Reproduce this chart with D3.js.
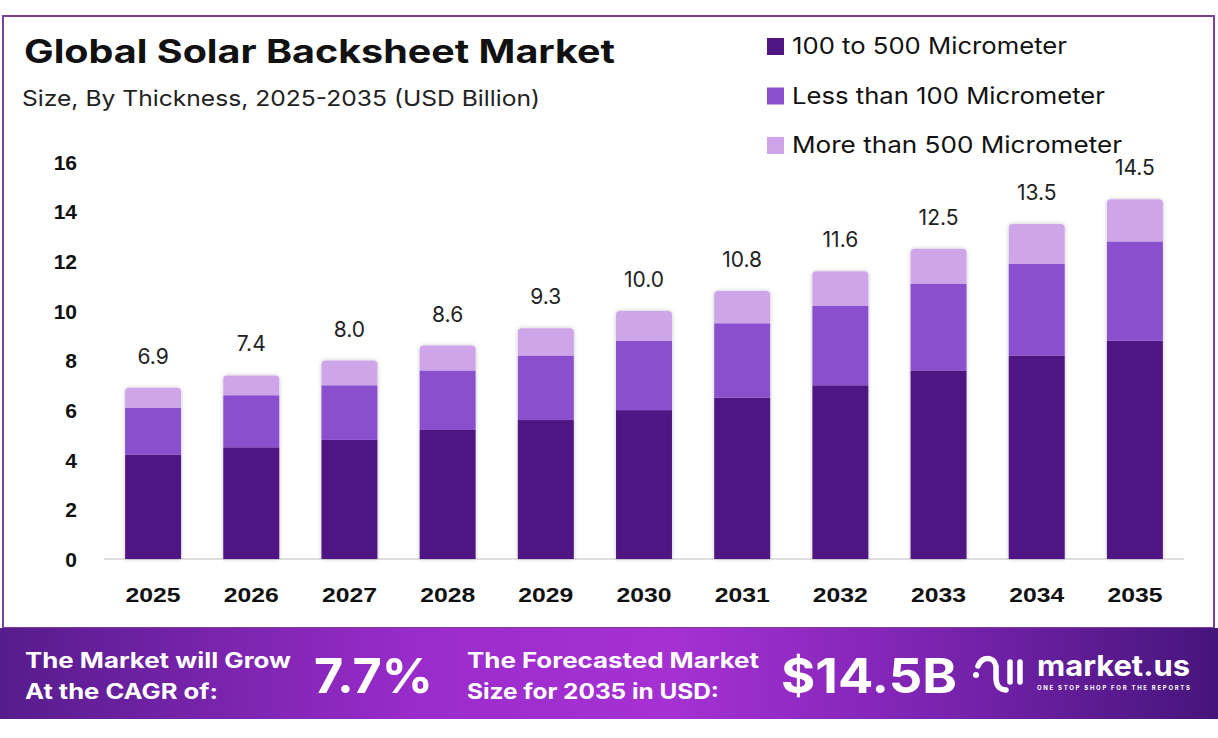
<!DOCTYPE html>
<html>
<head>
<meta charset="utf-8">
<script src="https://cdn.jsdelivr.net/npm/d3@7"></script>
<style>
  body { margin: 0; background: #fff; }
  svg { display: block; }
</style>
</head>
<body>
<svg id="chart" width="1218" height="738"></svg>
<script>
// data (USD billion)
var years = ["2025","2026","2027","2028","2029","2030","2031","2032","2033","2034","2035"];
var mid500 = [4.2, 4.5, 4.8, 5.2, 5.6, 6.0, 6.5, 7.0, 7.6, 8.2, 8.8];   // 100 to 500 Micrometer
var below100 = [1.9, 2.1, 2.2, 2.4, 2.6, 2.8, 3.0, 3.2, 3.5, 3.7, 4.0]; // Less than 100 Micrometer
var above500 = [0.8, 0.8, 1.0, 1.0, 1.1, 1.2, 1.3, 1.4, 1.4, 1.6, 1.7]; // More than 500 Micrometer
var totals = [6.9, 7.4, 8.0, 8.6, 9.3, 10.0, 10.8, 11.6, 12.5, 13.5, 14.5];
var seriesNames = ["100 to 500 Micrometer", "Less than 100 Micrometer", "More than 500 Micrometer"];
var seriesColors = ["#4f1683", "#8a4fcc", "#cfa5e9"];
var yTicks = [0, 2, 4, 6, 8, 10, 12, 14, 16];

var svg = d3.select("#chart");
var titleFont = "Inter, 'Noto Sans', sans-serif";
var tickFont = "'Liberation Sans', Arial, sans-serif";

// defs: footer gradient + bar shadow
var defs = svg.append("defs");
var grad = defs.append("linearGradient").attr("id", "band").attr("x1", "0").attr("x2", "1");
[["0%", "#561c8c"], ["35%", "#9b2ccc"], ["55%", "#a631d3"], ["75%", "#7f25b4"], ["100%", "#45157b"]]
  .forEach(function (s) { grad.append("stop").attr("offset", s[0]).attr("stop-color", s[1]); });
var shadow = defs.append("filter").attr("id", "shadow").attr("x", "-20%").attr("y", "-20%").attr("width", "140%").attr("height", "140%");
shadow.append("feDropShadow").attr("dx", 0).attr("dy", 0).attr("stdDeviation", 2).attr("flood-color", "#000").attr("flood-opacity", 0.22);

// frame
svg.append("rect").attr("x", 3).attr("y", 16).attr("width", 1211).attr("height", 612)
  .attr("fill", "#fff").attr("stroke", "#7b3f99").attr("stroke-width", 2);

// title
svg.append("text").attr("x", 24).attr("y", 63).text("Global Solar Backsheet Market")
  .attr("font-family", titleFont).attr("font-weight", 700).attr("font-size", 32).attr("fill", "#111")
  .attr("textLength", 591).attr("lengthAdjust", "spacingAndGlyphs");
svg.append("text").attr("x", 22).attr("y", 106).text("Size, By Thickness, 2025-2035 (USD Billion)")
  .attr("font-family", titleFont).attr("font-size", 22).attr("fill", "#222")
  .attr("textLength", 518).attr("lengthAdjust", "spacingAndGlyphs");

// legend
var legendLen = [275, 313, 330];
var legend = svg.append("g").selectAll("g").data(seriesNames).enter().append("g")
  .attr("transform", function (d, i) { return "translate(767," + (38 + i * 49.5) + ")"; });
legend.append("rect").attr("width", 17).attr("height", 17)
  .attr("fill", function (d, i) { return seriesColors[i]; });
legend.append("text").attr("x", 25).attr("y", 16).text(function (d) { return d; })
  .attr("font-family", titleFont).attr("font-size", 23).attr("fill", "#111")
  .attr("textLength", function (d, i) { return legendLen[i]; }).attr("lengthAdjust", "spacingAndGlyphs");

// scales
var x = d3.scaleBand().domain(years).range([104, 1184]).paddingInner(0.43).paddingOuter(0.215);
var y = d3.scaleLinear().domain([0, 16]).range([559, 162]);

// y axis labels
var yAxis = svg.append("g").attr("transform", "translate(77,0)")
  .call(d3.axisLeft(y).tickValues(yTicks).tickSize(0).tickPadding(0));
yAxis.select(".domain").remove();
yAxis.selectAll("text").attr("font-family", tickFont).attr("font-weight", 700)
  .attr("font-size", 21).attr("fill", "#111").attr("dy", "0.35em");

// baseline
svg.append("line").attr("x1", 104).attr("x2", 1184).attr("y1", 559).attr("y2", 559)
  .attr("stroke", "#d4d4d4").attr("stroke-width", 1.5);

// x axis labels
var xAxis = svg.append("g").attr("transform", "translate(0,559)")
  .call(d3.axisBottom(x).tickSize(0).tickPadding(28));
xAxis.select(".domain").remove();
xAxis.selectAll("text").attr("font-family", tickFont).attr("font-weight", 700)
  .attr("font-size", 21).attr("fill", "#111")
  .attr("textLength", 55).attr("lengthAdjust", "spacingAndGlyphs");

// stacked bars
var rows = years.map(function (yr, i) {
  return { year: yr, a: mid500[i], b: below100[i], c: above500[i] };
});
var stack = d3.stack().keys(["a", "b", "c"])(rows);
var bw = x.bandwidth();
var r = 4;

var barG = svg.append("g").selectAll("g").data(years).enter().append("g")
  .attr("filter", "url(#shadow)");

barG.each(function (yr, i) {
  var g = d3.select(this);
  stack.forEach(function (layer, k) {
    var y0 = y(layer[i][0]), y1 = y(layer[i][1]);
    var x0 = x(yr);
    if (k < 2) {
      g.append("rect").attr("x", x0).attr("y", y1).attr("width", bw).attr("height", y0 - y1)
        .attr("fill", seriesColors[k]);
    } else {
      var p = d3.path();
      p.moveTo(x0, y0);
      p.lineTo(x0, y1 + r);
      p.quadraticCurveTo(x0, y1, x0 + r, y1);
      p.lineTo(x0 + bw - r, y1);
      p.quadraticCurveTo(x0 + bw, y1, x0 + bw, y1 + r);
      p.lineTo(x0 + bw, y0);
      p.closePath();
      g.append("path").attr("d", p.toString()).attr("fill", seriesColors[k]);
    }
  });
});

// total labels
svg.append("g").selectAll("text").data(totals).enter().append("text")
  .attr("x", function (d, i) { return x(years[i]) + bw / 2; })
  .attr("y", function (d) { return y(d) - 24; })
  .attr("text-anchor", "middle")
  .text(function (d) { return d.toFixed(1); })
  .attr("font-family", titleFont).attr("font-size", 21).attr("fill", "#222");

// footer band
svg.append("rect").attr("x", 0).attr("y", 628).attr("width", 1218).attr("height", 91).attr("fill", "url(#band)");
var ft = svg.append("g").attr("fill", "#fff").attr("font-family", titleFont).attr("font-weight", 700);
ft.append("text").attr("x", 25).attr("y", 668).attr("font-size", 21).text("The Market will Grow")
  .attr("textLength", 266).attr("lengthAdjust", "spacingAndGlyphs");
ft.append("text").attr("x", 25).attr("y", 699).attr("font-size", 21).text("At the CAGR of:")
  .attr("textLength", 193).attr("lengthAdjust", "spacingAndGlyphs");
ft.append("text").attr("x", 314).attr("y", 693).attr("font-size", 48).text("7.7%")
  .attr("textLength", 119).attr("lengthAdjust", "spacingAndGlyphs");
ft.append("text").attr("x", 467).attr("y", 668).attr("font-size", 21).text("The Forecasted Market")
  .attr("textLength", 292).attr("lengthAdjust", "spacingAndGlyphs");
ft.append("text").attr("x", 467).attr("y", 699).attr("font-size", 21).text("Size for 2035 in USD:")
  .attr("textLength", 252).attr("lengthAdjust", "spacingAndGlyphs");
ft.append("text").attr("x", 781).attr("y", 693).attr("font-size", 48).text("$14.5B")
  .attr("textLength", 176).attr("lengthAdjust", "spacingAndGlyphs");

// logo
var logo = svg.append("g").attr("transform", "translate(972,654)")
  .attr("fill", "none").attr("stroke", "#fff").attr("stroke-width", 5.5).attr("stroke-linecap", "round");
logo.append("circle").attr("cx", 4).attr("cy", 21).attr("r", 3).attr("fill", "#fff").attr("stroke", "none");
logo.append("path").attr("d", "M6,12 C10,2 22,2 24,12 L24,24 C24,34 30,36 34,36");
logo.append("line").attr("x1", 38).attr("x2", 38).attr("y1", 8).attr("y2", 28);
logo.append("line").attr("x1", 48).attr("x2", 48).attr("y1", 8).attr("y2", 28);
ft.append("text").attr("x", 1037).attr("y", 676).attr("font-size", 29).text("market.us")
  .attr("textLength", 153).attr("lengthAdjust", "spacingAndGlyphs");
ft.append("text").attr("x", 1037).attr("y", 690).attr("font-size", 6).text("ONE STOP SHOP FOR THE REPORTS")
  .attr("textLength", 153).attr("lengthAdjust", "spacing");
</script>
</body>
</html>
